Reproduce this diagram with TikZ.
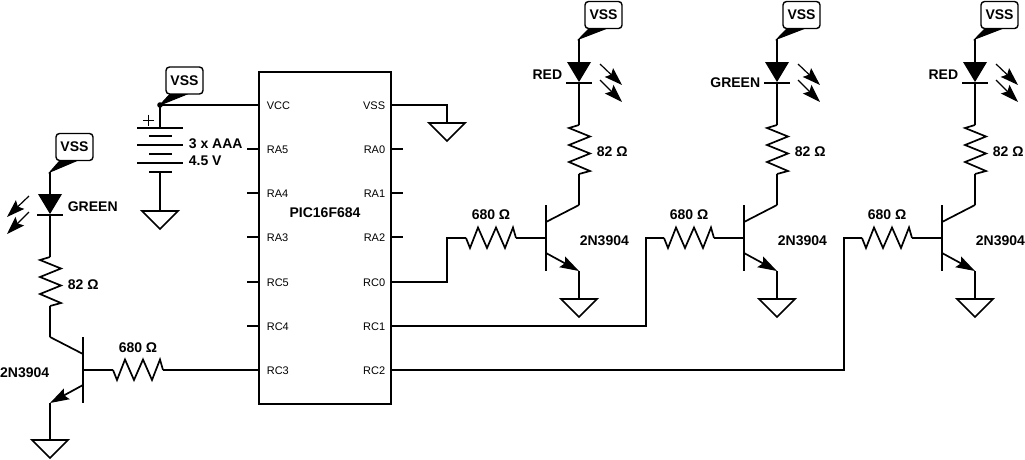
\documentclass[tikz,border=0pt]{standalone}
\usepackage{fontspec}
\setmainfont{Liberation Sans}
\usetikzlibrary{arrows.meta}
\tikzset{
  lbl/.style={font=\fontsize{14}{16}\selectfont\bfseries,inner sep=0pt},
  pinlbl/.style={font=\fontsize{11}{13}\selectfont,inner sep=0pt},
  vsstag/.style={draw,rounded corners=3.5pt,line width=1.4pt,minimum width=37pt,minimum height=27pt,inner sep=0pt,font=\fontsize{14}{16}\selectfont\bfseries},
  gnd/.pic={\draw (-18,0) -- (18,0) -- (0,18) -- cycle; \coordinate (-top) at (0,0);},
  rvert/.pic={\draw (0,0) -- (-10,3) -- (11,11.5) -- (-10,20) -- (11,28.5) -- (-10,37) -- (11,46) -- (0,49);
    \coordinate (-a) at (0,0); \coordinate (-b) at (0,49);},
  rhoriz/.pic={\draw (0,0) -- (4,10) -- (12,-10.5) -- (21,10) -- (30,-10.5) -- (39,10) -- (47,-10.5) -- (50,0);
    \coordinate (-a) at (0,0); \coordinate (-b) at (50,0);},
  led/.pic={\fill (-12,0) -- (12,0) -- (0,20) -- cycle; \draw (-13,21) -- (13,21);
    \coordinate (-a) at (0,0); \coordinate (-k) at (0,21);},
  photons/.pic={\draw[line width=1.2pt,-{Stealth[length=18pt,width=12pt,inset=3pt]}] (21,2) -- (43,23);
    \draw[line width=1.2pt,-{Stealth[length=18pt,width=12pt,inset=3pt]}] (21,18) -- (43,40);},
  npn/.pic={\draw (0,-33) -- (0,33);
    \draw (0,-16) -- (33,-33);
    \draw[-{Stealth[length=19pt,width=12pt,inset=3pt]}] (0,15) -- (33,33);
    \coordinate (-b) at (0,0); \coordinate (-c) at (33,-33); \coordinate (-e) at (33,33);}
}
\begin{document}
\begin{tikzpicture}[x=1pt,y=-1pt,line width=1.7pt]
  \useasboundingbox (0,0) rectangle (1025,459);
  % the chip
  \node[draw,minimum width=132pt,minimum height=332pt,inner sep=0pt] (ic) at (325,238) {};
  \node[lbl] (iclbl) at (325,213) {PIC16F684};
  \foreach \p/\y in {VCC/106,RA5/150,RA4/194,RA3/238,RC5/283,RC4/327,RC3/371}{
    \node[pinlbl,anchor=west] (\p) at (266,\y) {\p};
    \draw (ic.west |- 0,\y-1) -- ++(-11,0);  }
  \foreach \p/\y in {VSS/106,RA0/150,RA1/194,RA2/238,RC0/283,RC1/327,RC2/371}{
    \node[pinlbl,anchor=east] (\p) at (386,\y) {\p};
    \draw (ic.east |- 0,\y-1) -- ++(11,0);  }
  \pic (gic) at (447,123) {gnd};
  \coordinate (vssw) at (391,105);
  \draw (vssw) -| (gic-top);

  % battery
  \coordinate (vcc) at (160,105);
  \fill (vcc) circle (2.8pt);
  \node[vsstag] (tagb) at (184.5,80.5) {VSS};
  \filldraw[line width=1pt] (vcc) -- ([xshift=-15pt]tagb.south) -- ([xshift=1pt]tagb.south) -- cycle;
  \draw (259,105) -- (vcc);
  \coordinate (batt) at (160,128);
  \coordinate (battb) at (160,172);
  \draw (vcc) -- (batt);
  \foreach \y in {128,145,163}{
    \draw (137,\y) -- (183,\y);  }
  \foreach \y in {136,154,172}{
    \draw (149,\y) -- (172,\y);  }
  \draw[line width=0.8pt] (143,120) -- (154,120);
  \draw[line width=0.8pt] (148.5,114.5) -- (148.5,125.5);
  \pic (gb) at (160,211) {gnd};
  \draw (battb) -- (gb-top);
  \node[lbl,anchor=west] (lblb1) at (188,144) {3 x AAA};
  \node[lbl,anchor=west] (lblb2) at (188,161) {4.5 V};

  % the three stages on the right
  \foreach \n/\dx/\colr/\ledy/\rcy/\cx in {1/0/RED/75/282/447, 2/198/GREEN/83/326/646, 3/396/RED/75/370/844}{
    \begin{scope}[xshift=\dx pt]
      \node[vsstag] (tag\n) at (603.5,15) {VSS};
      \coordinate (tip\n) at (579,39);
      \filldraw[line width=1pt] (tip\n) -- ([xshift=-15pt]tag\n.south) -- ([xshift=1pt]tag\n.south) -- cycle;
      \pic (d\n) at (579,62) {led};
      \pic at (579,62) {photons};
      \node[lbl,anchor=east] (lbld\n) at (563,\ledy) {\colr};
      \pic (rc\n) at (579,125) {rvert};
      \node[lbl,anchor=west] (lblrc\n) at (596,152) {82 Ω};
      \pic (q\n) at (546,238) {npn};
      \node[lbl,anchor=west] (lblq\n) at (579,241) {2N3904};
      \pic (rb\n) at (466,238) {rhoriz};
      \node[lbl] (lblrb\n) at (491,215) {680 Ω};
      \pic (g\n) at (579,299) {gnd};
    \end{scope}
    \coordinate (rcw\n) at (391,\rcy);
    \draw (tip\n) -- (d\n-a);
    \draw (d\n-k) -- (rc\n-a);
    \draw (rc\n-b) -- (q\n-c);
    \draw (q\n-e) -- (g\n-top);
    \draw (rb\n-b) -- (q\n-b);
    \draw (rcw\n) -| (\cx,238) -- (rb\n-a);  }

  % the stage on the left
  \node[vsstag] (tag4) at (74.5,147) {VSS};
  \coordinate (tip4) at (50,172);
  \filldraw[line width=1pt] (tip4) -- ([xshift=-15pt]tag4.south) -- ([xshift=1pt]tag4.south) -- cycle;
  \pic (d4) at (50,194) {led};
  \pic[xscale=-1] at (50,194) {photons};
  \node[lbl,anchor=west] (lbld4) at (67,207) {GREEN};
  \pic (rc4) at (50,257) {rvert};
  \node[lbl,anchor=west] (lblrc4) at (67,285) {82 Ω};
  \pic[xscale=-1] (q4) at (83,370) {npn};
  \node[lbl,anchor=east] (lblq4) at (50,373) {2N3904};
  \pic (rb4) at (113,370) {rhoriz};
  \node[lbl] (lblrb4) at (138,348) {680 Ω};
  \pic (g4) at (50,440) {gnd};
  \coordinate (rc3w) at (259,370);
  \draw (tip4) -- (d4-a);
  \draw (d4-k) -- (rc4-a);
  \draw (rc4-b) -- (q4-c);
  \draw (q4-e) -- (g4-top);
  \draw (rb4-a) -- (q4-b);
  \draw (rb4-b) -- (rc3w);
\end{tikzpicture}
\end{document}
